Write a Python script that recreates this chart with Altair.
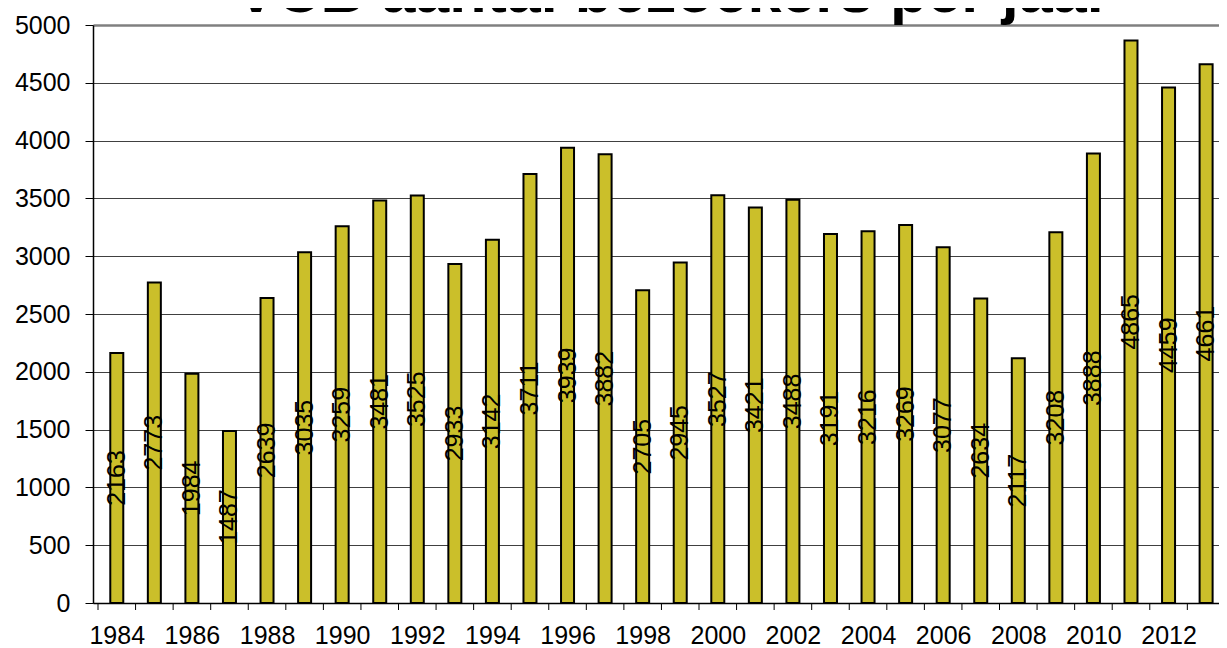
import altair as alt
import pandas as pd

years = [1984, 1985, 1986, 1987, 1988, 1989, 1990, 1991, 1992, 1993,
         1994, 1995, 1996, 1997, 1998, 1999, 2000, 2001, 2002, 2003,
         2004, 2005, 2006, 2007, 2008, 2009, 2010, 2011, 2012, 2013]
visitors = [2163, 2773, 1984, 1487, 2639, 3035, 3259, 3481, 3525, 2933,
            3142, 3711, 3939, 3882, 2705, 2945, 3527, 3421, 3488, 3191,
            3216, 3269, 3077, 2634, 2117, 3208, 3888, 4865, 4459, 4661]
axis_years = [1984, 1986, 1988, 1990, 1992, 1994, 1996, 1998, 2000,
              2002, 2004, 2006, 2008, 2010, 2012]
y_ticks = [0, 500, 1000, 1500, 2000, 2500, 3000, 3500, 4000, 4500, 5000]
title_text = "VCB aantal bezoekers per jaar"

df = pd.DataFrame({"jaar": years, "bezoekers": visitors})
bounds = pd.DataFrame({"grens": [y - 0.5 for y in years]})
title_df = pd.DataFrame({"t": [title_text]})

W, H = 1126, 578
FONT = "Liberation Sans"

xscale = alt.Scale(domain=[1983.5, 2013.21], nice=False, zero=False)
yscale = alt.Scale(domain=[0, 5000], nice=False)

x_axis = alt.Axis(values=axis_years, format="d", ticks=False, labelFontSize=25,
                  labelPadding=20, domainColor="black", domainWidth=1.5,
                  grid=False, title=None, labelColor="black", labelFont=FONT)
y_axis = alt.Axis(values=y_ticks, format="d", tickSize=8, tickColor="black",
                  labelFontSize=25, labelPadding=15, domainColor="black",
                  domainWidth=1.5,
                  gridColor={"condition": {"test": "datum.value >= 5000", "value": "#808080"},
                             "value": "#404040"},
                  gridWidth={"condition": {"test": "datum.value >= 5000", "value": 2.5},
                             "value": 1},
                  title=None, labelColor="black", labelFont=FONT)

base = alt.Chart(df)

bars = base.mark_bar(size=13, fill="#CBBF2A", stroke="black", strokeWidth=2).encode(
    x=alt.X("jaar:Q", scale=xscale, axis=x_axis),
    y=alt.Y("bezoekers:Q", scale=yscale, axis=y_axis),
)

labels = base.transform_calculate(mid="datum.bezoekers / 2").mark_text(
    angle=270, fontSize=25, color="black", baseline="middle", align="center", font=FONT
).encode(
    x=alt.X("jaar:Q", scale=xscale),
    y=alt.Y("mid:Q", scale=yscale),
    text=alt.Text("bezoekers:Q", format="d"),
)

ticks = alt.Chart(bounds).mark_rule(color="black", strokeWidth=1).encode(
    x=alt.X("grens:Q", scale=xscale),
    y=alt.value(H),
    y2=alt.value(H + 7),
)

title = alt.Chart(title_df).mark_text(
    fontSize=61, fontWeight="bold", baseline="alphabetic", align="center",
    color="black", font=FONT
).encode(
    text="t:N",
    x=alt.value(580),
    y=alt.value(-13),
)

chart = alt.layer(bars, labels, ticks, title).properties(
    width=W, height=H,
    autosize=alt.AutoSizeParams(type="none"),
    padding={"left": 85, "top": 17, "right": 0, "bottom": 45},
    background="white",
).configure_view(fill="#C0C0C0", strokeWidth=0
).configure(font=FONT)

chart.save("out.html", embed_options={"renderer": "svg", "actions": False})
